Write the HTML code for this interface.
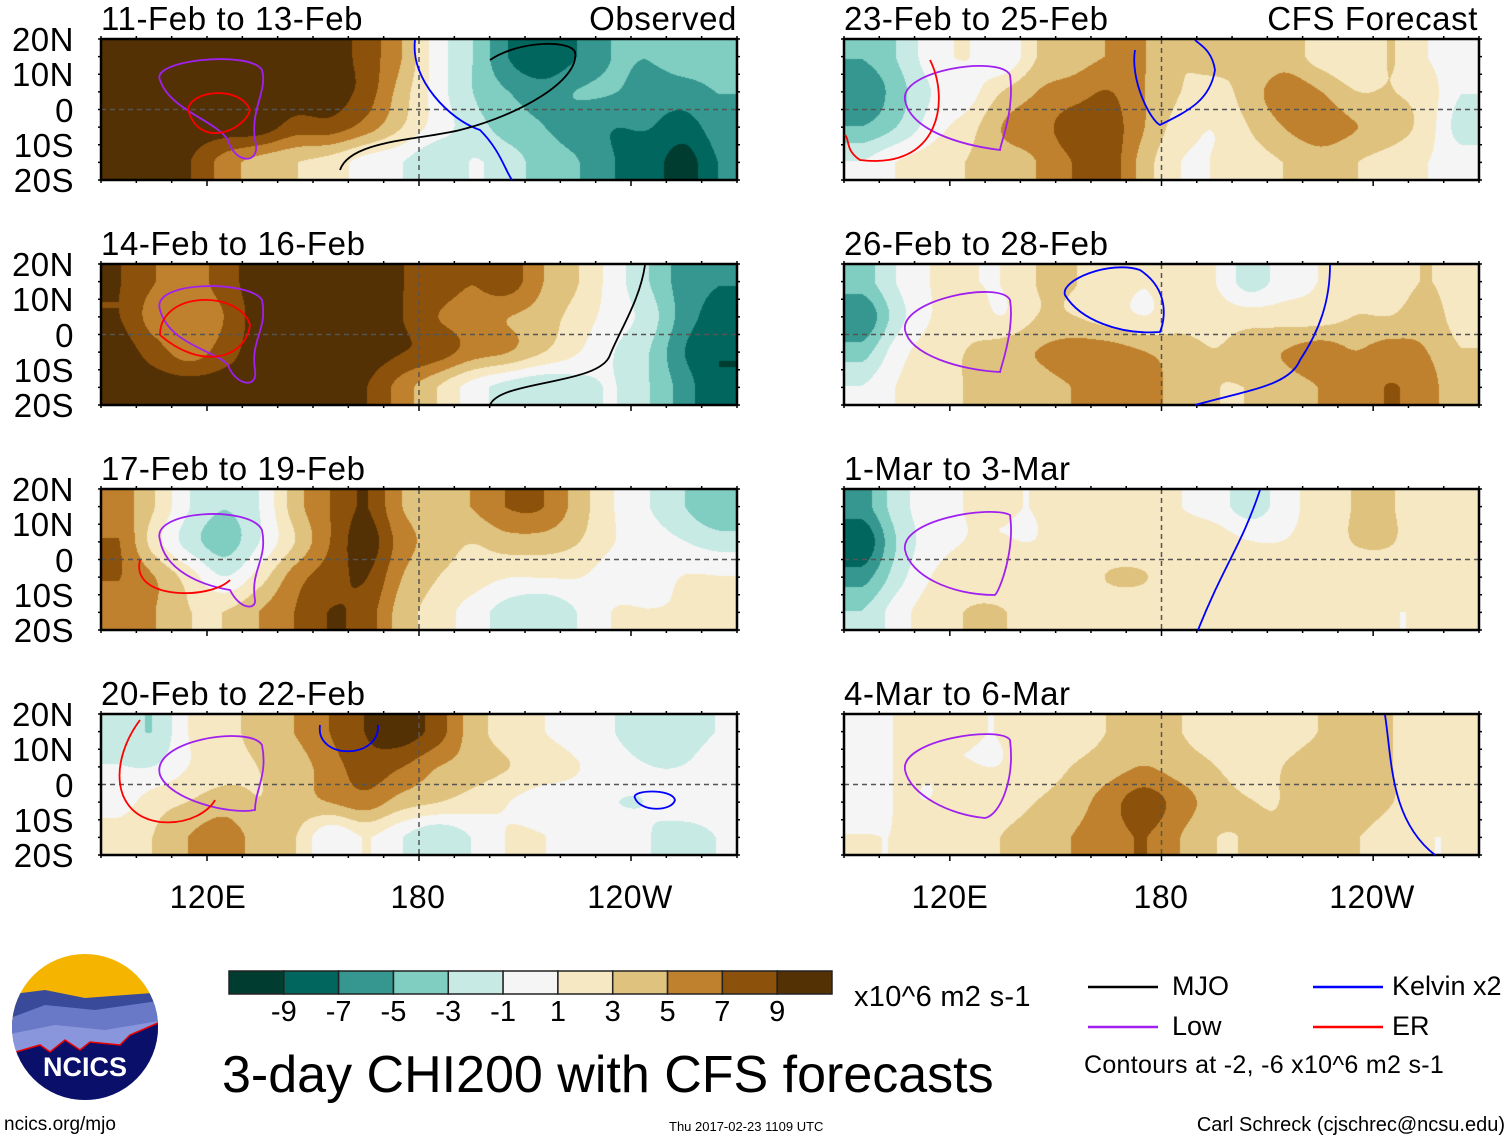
<!DOCTYPE html>
<html><head><meta charset="utf-8">
<style>
body{margin:0;background:#fff;width:1510px;height:1142px;position:relative;overflow:hidden;font-family:"Liberation Sans",Arial,sans-serif;}
.t{position:absolute;white-space:nowrap;color:#000;line-height:1;}
canvas{position:absolute;}
svg{position:absolute;left:0;top:0;}
</style></head><body>
<div id="root"></div>
<svg id="ov" width="1510" height="1142"></svg>
<script>
// Data: CHI200 anomaly (x10^6 m2 s-1), 18 lon bins (95E..265E, 10 deg), 4 lat rows (15N,5N,5S,15S)
const lonCenters=[95,105,115,125,135,145,155,165,175,185,195,205,215,225,235,245,255,265];
const latCenters=[15,5,-5,-15];
const panelTitles=["11-Feb to 13-Feb","14-Feb to 16-Feb","17-Feb to 19-Feb","20-Feb to 22-Feb","23-Feb to 25-Feb","26-Feb to 28-Feb","1-Mar to 3-Mar","4-Mar to 6-Mar"];
const p1=[[10,10,10,10,10,10,10,8,5,0,-3,-7,-9,-7,-5,-5,-4,-4],[10,10,10,10,10,10,10,8,4,0,-3,-5,-6,-5,-5,-6,-6,-5],[10,10,10,10,10,8,8,6,3,0,-2,-4,-5,-6,-7,-7,-8,-6],[10,10,9,6,4,3,2,0,-1,-3,-1,-2,-4,-5,-7,-8,-10,-7]];
const p2=[[9,7,6,8,10,10,10,10,9,8,7,8,5,3,0,-3,-6,-7],[9,6,5,7,10,10,10,10,9,7,6,5,4,2,0,-2,-6,-8],[10,8,6,8,10,10,10,10,9,8,6,5,3,1,-1,-3,-7,-9],[10,10,10,10,10,10,10,9,6,3,0,-2,-3,-2,-1,-3,-6,-9]];
const p3=[[6,3,-1,-3,-1,4,7,9,5,4,5,7,7,4,1,-1,-3,-5],[7,2,-2,-4,-1,3,7,10,6,4,3,4,4,3,1,0,-1,-2],[7,5,2,-1,2,6,8,9,5,3,2,1,1,1,0,0,1,1],[6,5,3,3,5,7,9,8,4,2,0,-2,-3,-1,1,1,1,1]];
const p4=[[-2,-3,1,2,4,5,7,9,10,8,4,2,1,0,-1,-3,-2,-1],[-1,-1,1,2,3,4,6,8,7,5,4,3,2,1,0,-1,-1,0],[0,2,3,4,3,4,5,6,4,3,2,1,0,0,-1,-1,0,0],[2,3,5,6,4,3,-1,1,-1,-3,-1,1,1,0,0,-1,-2,-1]];
const p5=[[-5,-3,0,1,-1,3,4,5,5,3,4,3,4,2,1,3,1,0],[-7,-4,-1,0,3,5,6,7,5,3,2,4,6,5,3,3,2,-1],[-5,-3,0,2,5,6,8,8,5,2,1,3,5,6,5,4,2,-2],[-1,1,2,3,4,5,7,8,4,1,1,2,3,4,3,2,1,0]];
const p6=[[-4,-1,1,1,1,3,3,2,1,2,1,-2,0,1,2,2,3,2],[-7,-2,1,2,1,3,3,2,1,2,2,2,2,2,3,3,4,2],[-4,0,2,3,4,5,6,6,5,4,3,4,5,6,5,6,5,3],[-1,1,2,3,3,4,5,6,6,4,3,3,4,5,6,7,6,3]];
const p7=[[-6,-2,0,1,1,1,2,2,2,1,0,-2,0,2,3,3,2,1],[-9,-3,0,1,1,1,2,2,2,2,2,1,1,2,3,3,2,1],[-6,-2,1,2,2,2,2,3,3,2,1,2,2,2,2,2,2,1],[-3,0,2,3,3,2,2,2,2,2,2,2,2,2,2,1,1,1]];
const p8=[[0,1,1,1,1,2,2,3,4,3,2,2,2,3,4,3,2,1],[0,1,1,1,1,2,3,4,5,4,3,2,3,4,4,3,2,1],[0,1,1,2,2,3,4,6,8,6,4,3,3,4,4,3,2,1],[1,1,2,2,3,4,5,6,7,5,3,3,3,3,3,2,1,1]];
const fields=[p1,p2,p3,p4,p5,p6,p7,p8];
const levels=[-9,-7,-5,-3,-1,1,3,5,7,9];
const palette=["#003c30","#01665e","#35978f","#80cdc1","#c7eae5","#f5f5f5","#f6e8c3","#dfc27d","#bf812d","#8c510a","#543005"];

const root=document.getElementById('root');
const ov=document.getElementById('ov');
const NS="http://www.w3.org/2000/svg";
const colX=[101,844], colW=[636,635], rowY=[39,264,489,714], PH=141;
const lonMin=90, lonMax=270, latMin=-20, latMax=20;
function txt(s,x,y,size,align,name,ls){
  const d=document.createElement('div');d.className='t';d.textContent=s;
  d.style.fontSize=size+'px';d.style.top=y+'px';
  if(ls)d.style.letterSpacing=ls+'px';
  if(align==='right'){d.style.right=(1510-x)+'px';}
  else if(align==='center'){d.style.left=x+'px';d.style.transform='translateX(-50%)';}
  else d.style.left=x+'px';
  
  
  root.appendChild(d);return d;
}
function hex(c){return [parseInt(c.slice(1,3),16),parseInt(c.slice(3,5),16),parseInt(c.slice(5,7),16)];}
const palRGB=palette.map(hex);
function cubic(p0,p1,p2,p3,t){return p1+0.5*t*(p2-p0+t*(2*p0-5*p1+4*p2-p3+t*(3*(p1-p2)+p3-p0)));}
function sample(f,lon,lat){
  const nx=lonCenters.length,ny=latCenters.length;
  let fx=(lon-lonCenters[0])/10, fy=(latCenters[0]-lat)/10;
  fx=Math.max(0,Math.min(nx-1,fx));fy=Math.max(0,Math.min(ny-1,fy));
  const x0=Math.min(Math.floor(fx),nx-2),y0=Math.min(Math.floor(fy),ny-2);
  const tx=fx-x0,ty=fy-y0;
  const g=(r,c)=>f[Math.max(0,Math.min(ny-1,r))][Math.max(0,Math.min(nx-1,c))];
  const rows=[];
  for(let r=y0-1;r<=y0+2;r++)rows.push(cubic(g(r,x0-1),g(r,x0),g(r,x0+1),g(r,x0+2),tx));
  return cubic(rows[0],rows[1],rows[2],rows[3],ty);
}
function line(x1,y1,x2,y2,stroke,w,dash,name){
  const l=document.createElementNS(NS,'line');
  l.setAttribute('x1',x1);l.setAttribute('y1',y1);l.setAttribute('x2',x2);l.setAttribute('y2',y2);
  l.setAttribute('stroke',stroke);l.setAttribute('stroke-width',w);
  if(dash)l.setAttribute('stroke-dasharray',dash);
  
  
  ov.appendChild(l);return l;
}
fields.forEach((f,k)=>{
  const col=k<4?0:1,row=k%4;
  const X=colX[col],Y=rowY[row],W=colW[col];
  const cv=document.createElement('canvas');cv.width=W;cv.height=PH;
  cv.style.left=X+'px';cv.style.top=Y+'px';
  
  
  root.appendChild(cv);
  const ctx=cv.getContext('2d');const im=ctx.createImageData(W,PH);
  for(let py=0;py<PH;py++){const lat=latMax-(py+0.5)/PH*(latMax-latMin);
    for(let px=0;px<W;px++){const lon=lonMin+(px+0.5)/W*(lonMax-lonMin);
      const v=sample(f,lon,lat)+0.07;let i=0;while(i<levels.length&&v>=levels[i])i++;
      const c=palRGB[i];const o=(py*W+px)*4;im.data[o]=c[0];im.data[o+1]=c[1];im.data[o+2]=c[2];im.data[o+3]=255;}}
  ctx.putImageData(im,0,0);
  const lx=lon=>X+(lon-lonMin)/(lonMax-lonMin)*W;
  const ly=lat=>Y+(latMax-lat)/(latMax-latMin)*PH;
  line(X,ly(0),X+W,ly(0),'#555',1.5,'5,4','equator-line');
  line(lx(180),Y,lx(180),Y+PH,'#555',1.5,'5,4','dateline');
  for(let lon=90;lon<=270;lon+=10){line(lx(lon),Y+PH,lx(lon),Y+PH+(lon%60===0?6:3),'#000',1.5,null,'x-tick');line(lx(lon),Y,lx(lon),Y-3,'#000',1.5,null,'x-tick');}
  for(let lat=-20;lat<=20;lat+=5){line(X,ly(lat),X-3,ly(lat),'#000',1.5,null,'y-tick');line(X+W,ly(lat),X+W+3,ly(lat),'#000',1.5,null,'y-tick');}
  const r=document.createElementNS(NS,'rect');r.setAttribute('x',X);r.setAttribute('y',Y);r.setAttribute('width',W);r.setAttribute('height',PH);
  r.setAttribute('fill','none');r.setAttribute('stroke','#000');r.setAttribute('stroke-width','2.5');
  
  
  ov.appendChild(r);
  txt(panelTitles[k],X,Y-37,33,'left','panel-title',0.6);
  if(col===0){['20N','10N','0','10S','20S'].forEach((s,i)=>txt(s,74,Y+i*35.25-16,33,'right','lat-label',0.5));}
});
txt('Observed',737,2,33,'right','observed-label',0.6);
txt('CFS Forecast',1478,2,33,'right','cfs-forecast-label',0.6);
[[208,'120E'],[418,'180'],[630,'120W'],[950,'120E'],[1161,'180'],[1372,'120W']].forEach(a=>txt(a[1],a[0],881,32,'center','lon-label',0.5));

const loops=[
 ['#a020f0','M160,80 C150,60 250,50 262,70 C268,90 250,110 255,140 C262,165 235,165 228,140 C215,120 170,110 160,80Z'],
 ['#ff0000','M188,110 C190,90 240,85 250,110 C245,130 200,150 188,110Z'],
 ['#0000ff','M415,40 C410,80 450,120 480,130 C500,150 505,170 512,180'],
 ['#000','M340,170 C350,140 420,140 460,130 C520,115 580,80 575,52 C570,40 520,40 490,60'],
 ['#a020f0','M160,310 C150,280 250,280 262,300 C268,330 250,340 255,370 C258,390 235,385 228,365 C215,350 170,345 160,310Z'],
 ['#ff0000','M160,335 C160,290 240,290 250,325 C245,360 200,370 160,335Z'],
 ['#000','M490,405 C500,380 600,385 610,355 C620,330 640,300 645,265'],
 ['#a020f0','M160,540 C150,510 250,505 262,530 C268,560 250,570 255,600 C256,610 240,610 230,590 C200,585 165,570 160,540Z'],
 ['#ff0000','M140,560 C130,600 210,600 230,580'],
 ['#a020f0','M160,775 C150,740 250,725 262,745 C268,775 255,790 255,810 C230,815 170,800 160,775Z'],
 ['#ff0000','M140,720 C110,760 110,815 160,822 C190,825 210,810 215,800'],
 ['#0000ff','M320,725 C315,760 380,760 378,725'],
 ['#0000ff','M635,798 C630,790 672,788 675,800 C672,812 640,812 635,798Z'],
 ['#a020f0','M905,100 C900,70 1000,55 1010,75 C1015,110 1000,145 1000,150 C960,145 910,130 905,100Z'],
 ['#ff0000','M930,60 C950,100 940,170 860,160 C845,150 850,140 845,135'],
 ['#0000ff','M1135,50 C1130,80 1150,120 1160,125 C1190,110 1210,100 1215,70 C1212,50 1200,45 1195,40'],
 ['#a020f0','M905,330 C900,300 1000,280 1010,300 C1015,330 1000,370 1000,372 C960,370 910,355 905,330Z'],
 ['#0000ff','M1065,295 C1060,280 1110,260 1140,270 C1170,290 1165,320 1160,332 C1120,335 1080,320 1065,295Z'],
 ['#0000ff','M1195,405 C1250,390 1290,385 1300,360 C1320,330 1330,300 1330,265'],
 ['#a020f0','M905,550 C900,520 990,505 1010,515 C1015,550 1000,590 995,595 C950,595 910,575 905,550Z'],
 ['#0000ff','M1198,630 C1210,600 1220,580 1230,560 C1240,540 1250,520 1260,490'],
 ['#a020f0','M905,770 C900,740 1000,725 1010,740 C1015,780 1000,815 985,818 C950,815 910,795 905,770Z'],
 ['#0000ff','M1385,715 C1392,760 1390,820 1435,855'],
];
loops.forEach(l=>{const p=document.createElementNS(NS,'path');p.setAttribute('d',l[1]);p.setAttribute('fill','none');p.setAttribute('stroke',l[0]);p.setAttribute('stroke-width','1.8');
 
 
 ov.appendChild(p);});

const cbX=229,cbY=971,cbW=603,cbH=23;
palette.forEach((c,i)=>{const r=document.createElementNS(NS,'rect');
 r.setAttribute('x',cbX+i*cbW/11);r.setAttribute('y',cbY);r.setAttribute('width',cbW/11);r.setAttribute('height',cbH);
 r.setAttribute('fill',c);r.setAttribute('stroke','#222');r.setAttribute('stroke-width','1.5');
 
 
 ov.appendChild(r);});
levels.forEach((v,i)=>txt(String(v),cbX+(i+1)*cbW/11,998,29,'center','colorbar-tick-label'));
txt('x10^6 m2 s-1',854,983,29,'left','colorbar-units',0.3);
txt('3-day CHI200 with CFS forecasts',222,1049,52,'left','figure-title');
[[1088,987,'#000','MJO',1172],[1088,1027,'#a020f0','Low',1172],[1313,987,'#0000ff','Kelvin x2',1392],[1313,1027,'#ff0000','ER',1392]].forEach(a=>{
 line(a[0],a[1],a[0]+70,a[1],a[2],2.5,null,'legend-line');txt(a[3],a[4],a[1]-14,27,'left','legend-label');});
txt('Contours at -2, -6 x10^6 m2 s-1',1084,1053,25,'left','contour-note',0.3);
txt('ncics.org/mjo',4,1115,19,'left','website-label');
txt('Thu 2017-02-23 1109 UTC',669,1120,13,'left','timestamp');
txt('Carl Schreck (cjschrec@ncsu.edu)',1505,1115,20,'right','author-credit');
</script>
<svg width="160" height="160" style="left:5px;top:950px">
<defs><clipPath id="cc"><circle cx="80" cy="77" r="73"/></clipPath></defs>
<g clip-path="url(#cc)">
<rect x="0" y="0" width="160" height="160" fill="#f5b400"/>
<path d="M0,45 L40,40 L80,48 L120,45 L160,42 L160,160 L0,160Z" fill="#3a4a9a"/>
<path d="M0,70 L40,55 L90,60 L160,50 L160,160 L0,160Z" fill="#6a78c8"/>
<path d="M0,85 L50,75 L100,80 L160,70 L160,160 L0,160Z" fill="#8a96dc"/>
<path d="M0,105 L35,95 L45,102 L60,90 L75,100 L85,92 L115,95 L125,85 L160,70 L160,160 L0,160Z" fill="#0a0f6a" stroke="#e00" stroke-width="1.5"/>
</g>
<text x="80" y="126" text-anchor="middle" font-family="Liberation Sans" font-weight="bold" font-size="27" fill="#fff">NCICS</text>
</svg>
</body></html>
